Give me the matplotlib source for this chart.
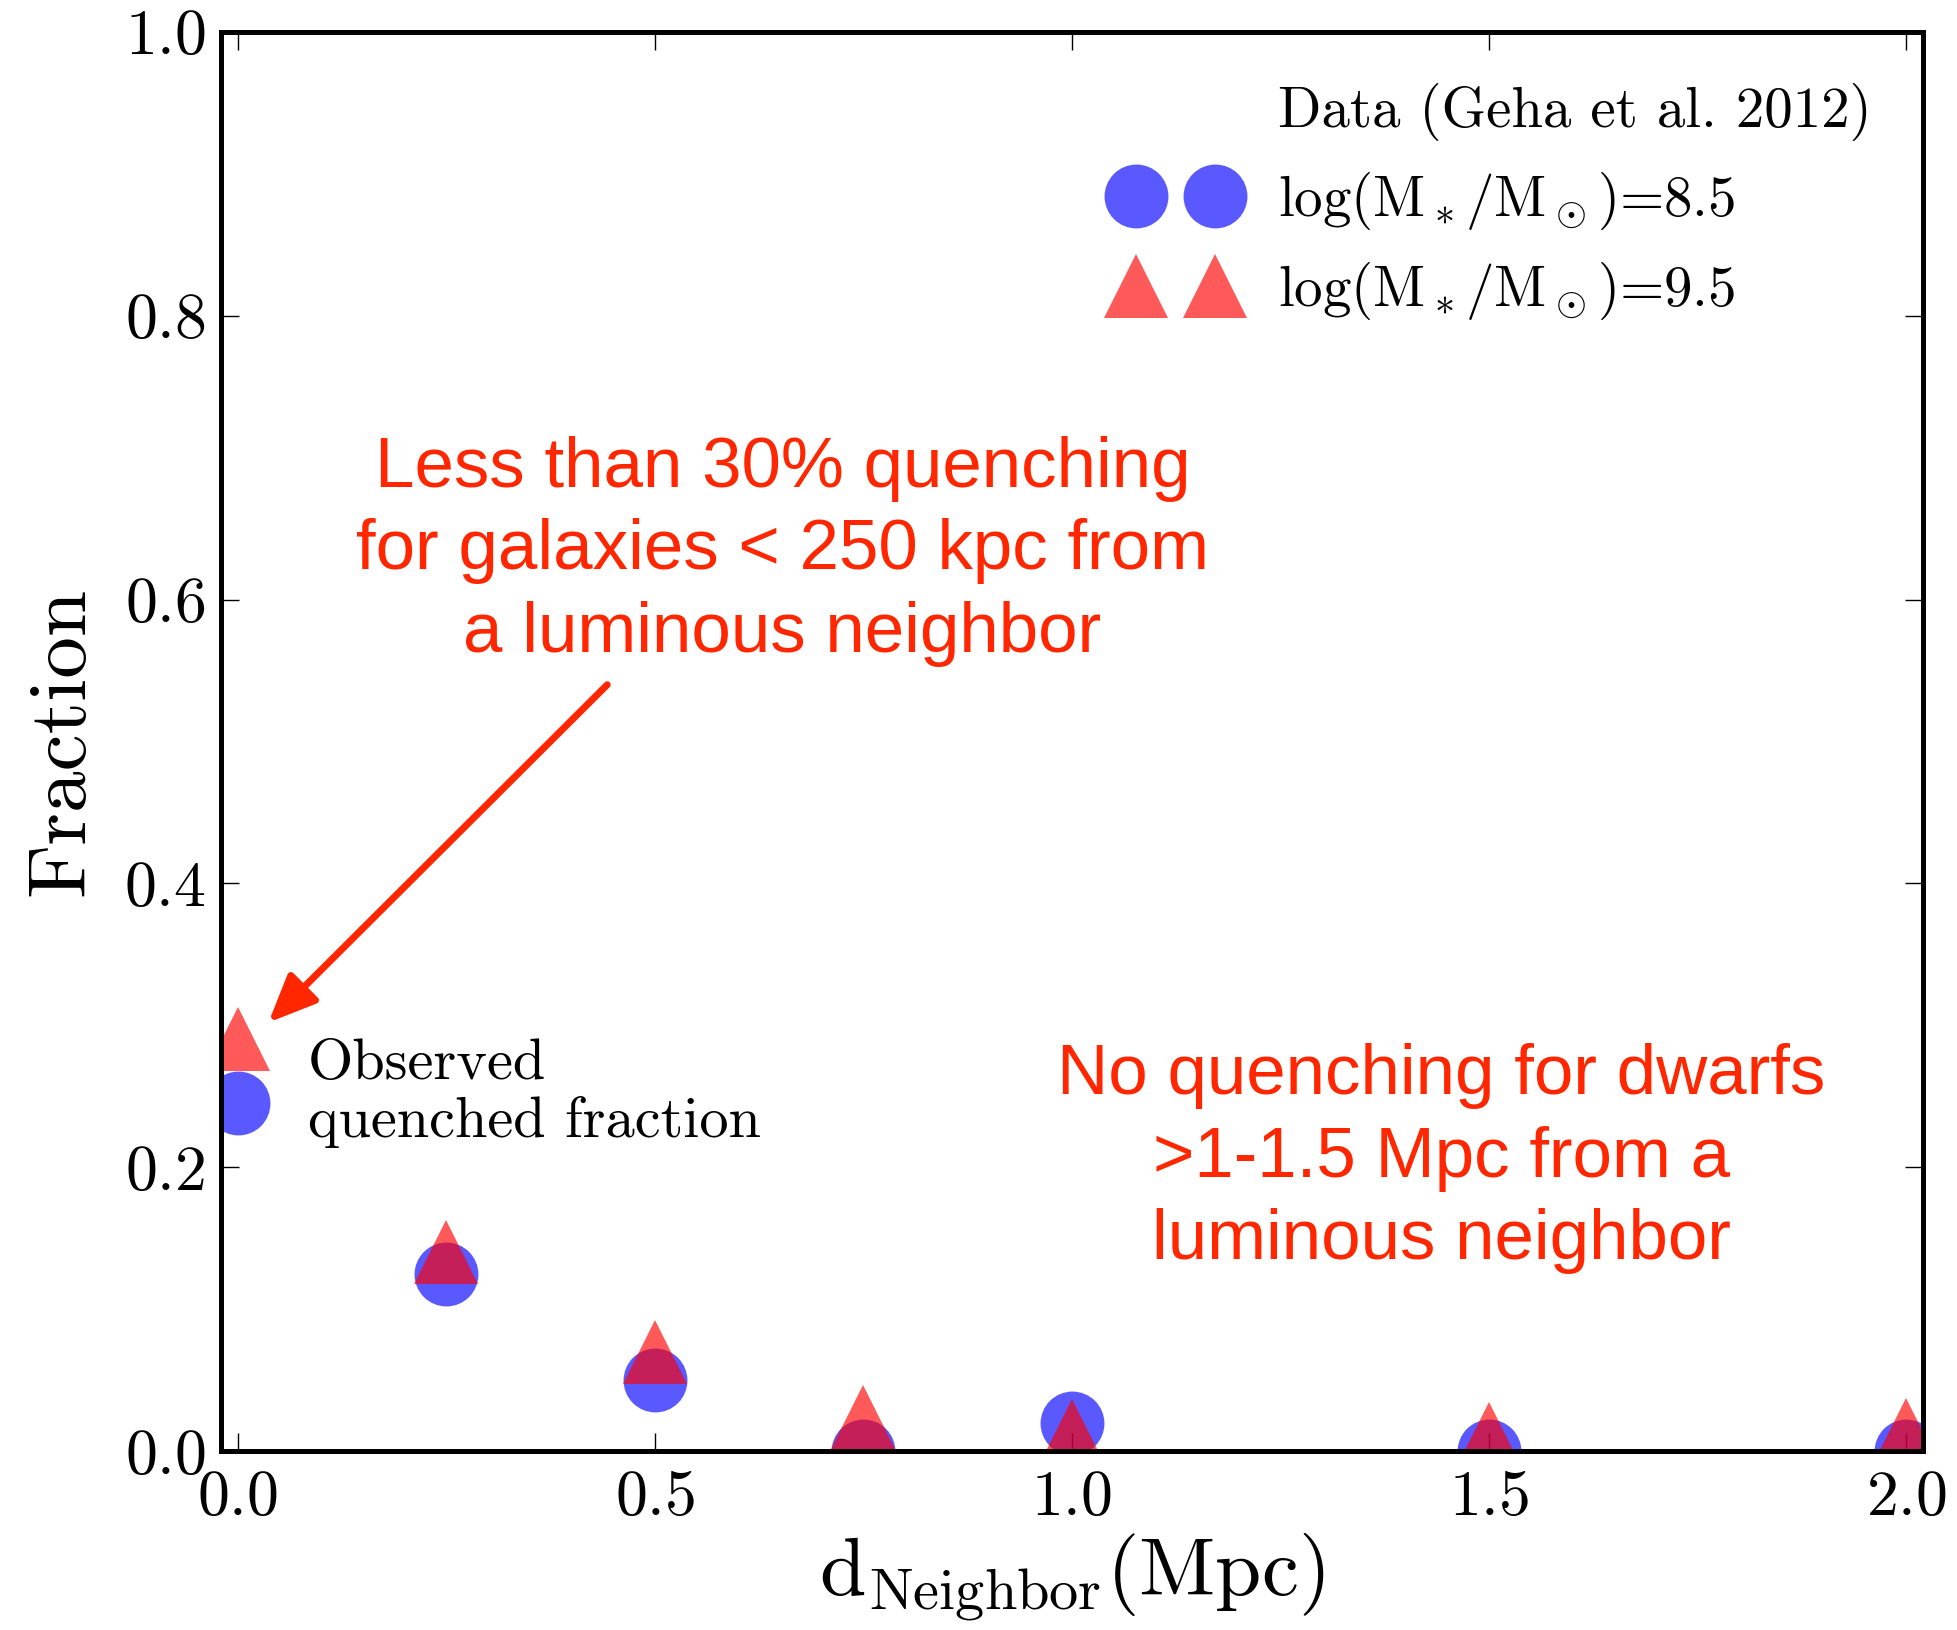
import numpy as np
import matplotlib
matplotlib.use("Agg")
import matplotlib.pyplot as plt

plt.rcParams['font.family'] = 'serif'
plt.rcParams['font.serif'] = ['cmr10']
plt.rcParams['mathtext.fontset'] = 'cm'
plt.rcParams['axes.formatter.use_mathtext'] = True

# quenched fraction vs distance to nearest luminous neighbour
d_neigh = np.array([0.0, 0.25, 0.5, 0.75, 1.0, 1.5, 2.0])
frac_85 = np.array([0.245, 0.125, 0.05, 0.0, 0.02, 0.0, 0.0])
frac_95 = np.array([0.29, 0.14, 0.07, 0.024, 0.014, 0.012, 0.015])

xticks = [0.0, 0.5, 1.0, 1.5, 2.0]
yticks = [0.0, 0.2, 0.4, 0.6, 0.8, 1.0]

red = '#FF2600'
ms = 46

fig = plt.figure(figsize=(19.57, 16.30), dpi=100)
ax = fig.add_axes([0.1129, 0.1098, 0.8697, 0.8706])

ax.plot([], [], ' ', label='Data (Geha et al. 2012)')
ax.plot(d_neigh, frac_85, 'o', color='blue', alpha=0.65, ms=ms, mew=0,
        label=r'$\log(\mathrm{M_*/M_\odot})$=8.5')
ax.plot(d_neigh, frac_95, '^', color='red', alpha=0.65, ms=ms, mew=0,
        label=r'$\log(\mathrm{M_*/M_\odot})$=9.5')

ax.set_xlim(-0.02, 2.02)
ax.set_ylim(0, 1)
ax.set_xticks(xticks)
ax.set_yticks(yticks)
ax.tick_params(direction='in', top=True, right=True, length=13, width=1,
               labelsize=46)
ax.tick_params(axis='x', pad=14)
ax.tick_params(axis='y', pad=11)
for sp in ax.spines.values():
    sp.set_linewidth(3.6)

ax.set_xlabel(r'$\mathrm{d_{Neighbor}(Mpc)}$', fontsize=60, labelpad=2)
ax.set_ylabel('Fraction', fontsize=60, labelpad=18)

leg = ax.legend(loc='upper right', frameon=False, numpoints=2, fontsize=41,
                handlelength=2.0, handletextpad=0.8, labelspacing=0.5,
                borderaxespad=0.5)

ax.text(0.084, 0.252, 'Observed\nquenched fraction', fontsize=42,
        ha='left', va='center', linespacing=1.15)

ax.text(0.653, 0.634, 'Less than 30% quenching\nfor galaxies < 250 kpc from\na luminous neighbor',
        fontsize=51, family='Liberation Sans', color=red, ha='center',
        va='center', multialignment='center', linespacing=1.32)
ax.text(1.443, 0.206, 'No quenching for dwarfs\n>1-1.5 Mpc from a\nluminous neighbor',
        fontsize=51, family='Liberation Sans', color=red, ha='center',
        va='center', multialignment='center', linespacing=1.32)

ax.annotate('', xy=(0.037, 0.302), xytext=(0.443, 0.540),
            arrowprops=dict(arrowstyle='-|>,head_length=1.45,head_width=0.63',
                            color=red, lw=5, mutation_scale=20,
                            shrinkA=0, shrinkB=0))

fig.savefig('out.png', dpi=100)
